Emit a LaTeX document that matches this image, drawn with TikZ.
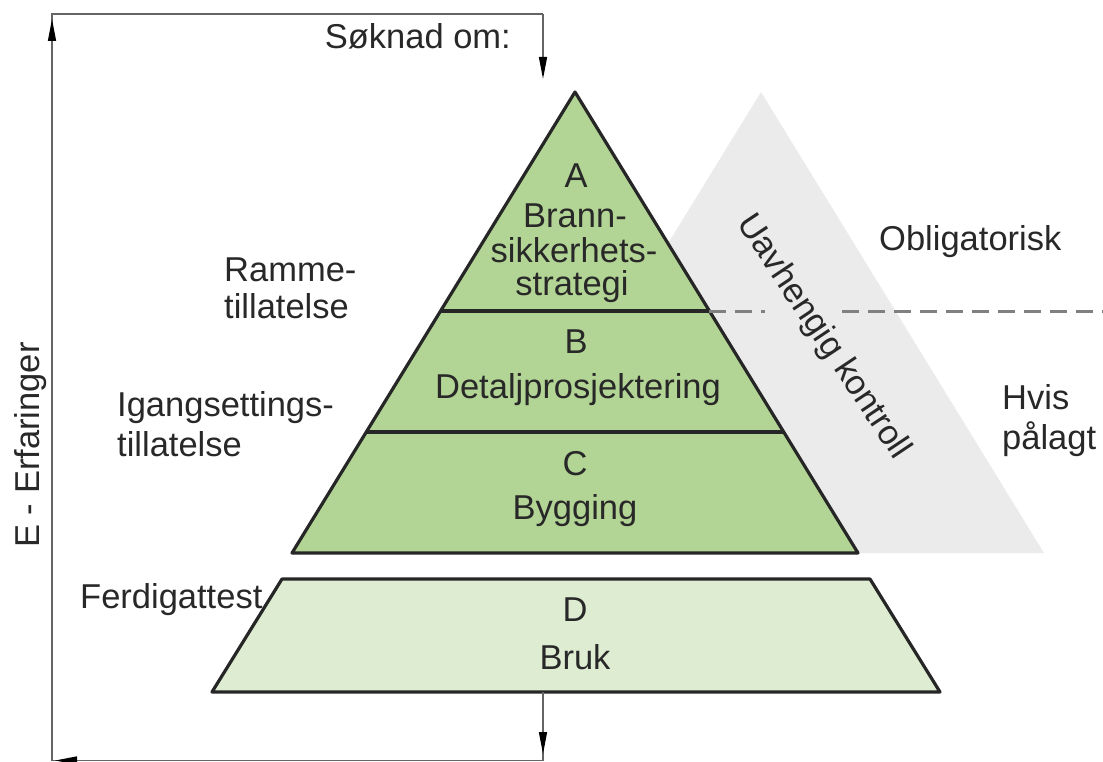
\documentclass[tikz,border=0pt]{standalone}
\usepackage{fontspec}
\setmainfont{Liberation Sans}
\usetikzlibrary{arrows.meta}
\definecolor{grn}{RGB}{178,212,148}
\definecolor{lgrn}{RGB}{222,237,210}
\definecolor{gry}{RGB}{235,235,235}
\definecolor{dashgray}{RGB}{128,128,128}
\definecolor{txt}{RGB}{40,40,40}
\definecolor{framegray}{RGB}{100,100,100}
\begin{document}
\begin{tikzpicture}[x=1pt,y=-1pt,
  lbl/.style={inner sep=0pt, text=txt, font=\fontsize{34.5}{38}\selectfont},
  tier/.style={draw=black!85, line width=3.2pt, line join=round},
  frameline/.style={draw=framegray, line width=1.5pt},
  arrowtip/.style={-{Triangle[length=22pt,width=8pt,color=black]}, draw=framegray, line width=1.5pt},
  dashline/.style={draw=dashgray, line width=3pt, dash pattern=on 17pt off 9pt},
]
\useasboundingbox (0,0) rectangle (1103,762);
% grey background triangle
\fill[gry] (761,92) -- (1044,553) -- (478,553) -- cycle;
% green pyramid
\coordinate (apex) at (575,92);
\coordinate (baseR) at (858,553);
\coordinate (baseL) at (292,553);
\fill[grn] (apex) -- (baseR) -- (baseL) -- cycle;
\coordinate (abL) at (440.6,311);
\coordinate (abR) at (709.4,311);
\coordinate (bcL) at (366.3,432);
\coordinate (bcR) at (783.7,432);
\draw[tier] (abL) -- (abR);
\draw[tier] (bcL) -- (bcR);
\draw[tier] (apex) -- (baseR) -- (baseL) -- cycle;
% D trapezoid
\draw[tier, fill=lgrn] (282,579) -- (870,579) -- (940,692) -- (212,692) -- cycle;
% dashed line
\coordinate (d1) at (765,311);
\coordinate (d2) at (842,311);
\coordinate (d3) at (1103,311);
\draw[dashline] (abR) -- (d1);
\draw[dashline] (d2) -- (d3);
% feedback frame
\coordinate (dout) at (543,692);
\coordinate (br) at (543,760.5);
\coordinate (bl) at (52,760.5);
\coordinate (tl) at (52,14);
\coordinate (tr) at (543,14);
\coordinate (ain) at (543,79);
\draw[frameline] (dout) -- (br) -- (bl) -- (tl) -- (tr);
\draw[arrowtip] (tr) -- (ain);
\coordinate (a1s) at (543,720);
\coordinate (a1e) at (543,754);
\draw[arrowtip] (a1s) -- (a1e);
\coordinate (a2s) at (100,760.5);
\coordinate (a2e) at (55,760.5);
\draw[arrowtip] (a2s) -- (a2e);
\coordinate (a3s) at (52,60);
\coordinate (a3e) at (52,19);
\draw[arrowtip] (a3s) -- (a3e);
% texts
\node[lbl, anchor=base east] (soknad) at (511,49) {Søknad om:};
\node[lbl, anchor=base] (A) at (576,188) {A};
\node[lbl, anchor=base] (A1) at (575,228) {Brann-};
\node[lbl, anchor=base] (A2) at (574,262) {sikkerhets-};
\node[lbl, anchor=base] (A3) at (572,295) {strategi};
\node[lbl, anchor=base] (B) at (576,353) {B};
\node[lbl, anchor=base] (B1) at (578,398) {Detaljprosjektering};
\node[lbl, anchor=base] (C) at (575,475) {C};
\node[lbl, anchor=base] (C1) at (575,519) {Bygging};
\node[lbl, anchor=base] (D) at (575,621) {D};
\node[lbl, anchor=base] (D1) at (575,669) {Bruk};
\node[lbl, anchor=base west] (R1) at (224,281) {Ramme-};
\node[lbl, anchor=base west] (R2) at (224,318) {tillatelse};
\node[lbl, anchor=base west] (I1) at (117,416) {Igangsettings-};
\node[lbl, anchor=base west] (I2) at (117,456) {tillatelse};
\node[lbl, anchor=base west] (F) at (80,608) {Ferdigattest};
\node[lbl, anchor=base west] (O) at (879,251) {Obligatorisk};
\node[lbl, anchor=base west] (H1) at (1002,409) {Hvis};
\node[lbl, anchor=base west] (H2) at (1002,449) {pålagt};
\node[lbl, anchor=base, rotate=90] (E) at (39,445) {E - Erfaringer};
\node[lbl, rotate=-56.3] (UK) at (823,337) {Uavhengig kontroll};
\end{tikzpicture}
\end{document}
